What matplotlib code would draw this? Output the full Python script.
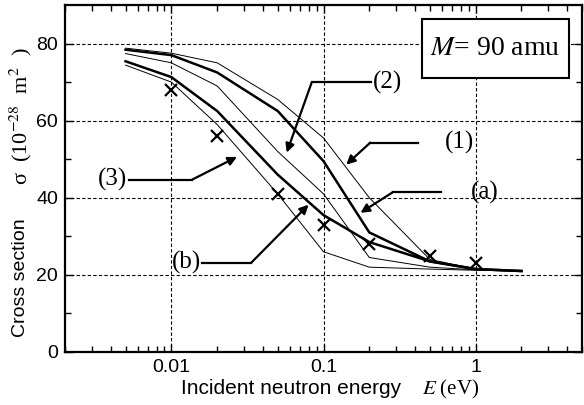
import matplotlib
matplotlib.use("Agg")
import matplotlib.pyplot as plt
from matplotlib.patches import Rectangle
from matplotlib.ticker import LogLocator, FixedLocator, FuncFormatter, NullFormatter

plt.rcParams["mathtext.fontset"] = "stix"

# Incident neutron energy (eV) and calculated cross sections (10^-28 m^2)
energy = [0.005, 0.01, 0.02, 0.05, 0.1, 0.2, 0.5, 1, 2]
curve_1 = [78.8, 77.5, 75.0, 65.5, 55.5, 40.0, 24.0, 21.5, 21.0]
curve_a = [78.4, 77.0, 72.5, 62.5, 49.5, 31.0, 23.5, 21.5, 21.0]
curve_2 = [77.4, 75.0, 69.0, 52.0, 41.0, 24.5, 22.0, 21.3, 21.0]
curve_b = [75.4, 71.3, 62.5, 46.0, 35.5, 28.5, 23.5, 21.5, 21.0]
curve_3 = [74.4, 70.0, 59.0, 41.0, 26.0, 22.0, 21.5, 21.2, 21.0]

# Measured points
exp_energy = [0.01, 0.02, 0.05, 0.1, 0.2, 0.5, 1]
exp_sigma = [68, 56, 41, 33, 28, 25, 23]

# Callout labels: text position, start of leader, knee, arrow tip
callouts = [
    ("(1)", (0.78, 54.3), (0.42, 54.3), (0.203, 54.3), (0.141, 48.6)),
    ("(2)", (0.262, 69.9), (0.205, 69.9), (0.0836, 69.9), (0.0573, 51.7)),
    ("(3)", (0.0041, 44.7), (0.0053, 44.7), (0.0137, 44.7), (0.027, 50.6)),
    ("(a)", (1.15, 41.3), (0.59, 41.5), (0.287, 41.5), (0.175, 36.1)),
    ("(b)", (0.0125, 23.1), (0.016, 23.1), (0.0334, 23.1), (0.0798, 38.2)),
]

fig = plt.figure(figsize=(5.84, 4.05), dpi=100)
ax = fig.add_axes([0.1113, 0.1309, 0.8853, 0.8568])

# thin model curves
for ys in (curve_1, curve_2, curve_3):
    ax.plot(energy, ys, color="black", lw=0.7, zorder=3)
# thick model curves
for ys in (curve_a, curve_b):
    ax.plot(energy, ys, color="black", lw=1.8, zorder=3)

ax.plot(exp_energy, exp_sigma, linestyle="none", marker="x", color="black",
        markersize=8, markeredgewidth=1.6, zorder=4)

# callouts
for label, txt, start, knee, tip in callouts:
    ax.plot([start[0], knee[0]], [start[1], knee[1]], color="black", lw=1.6, zorder=5)
    ax.annotate("", xy=tip, xytext=knee,
                arrowprops=dict(arrowstyle="-|>", color="black", lw=1.6,
                                mutation_scale=13, shrinkA=0, shrinkB=0),
                zorder=5)
    ax.text(txt[0], txt[1], label, ha="center", va="center", fontsize=18,
            family="Liberation Serif", zorder=6)

ax.set_xscale("log")
ax.set_xlim(0.002, 5)
ax.set_ylim(0, 90)

ax.xaxis.set_major_locator(FixedLocator([0.01, 0.1, 1]))
ax.xaxis.set_major_formatter(FuncFormatter(lambda v, p: f"{v:g}"))
ax.xaxis.set_minor_locator(LogLocator(base=10, subs=range(2, 10)))
ax.xaxis.set_minor_formatter(NullFormatter())
ax.set_yticks([0, 20, 40, 60, 80])
ax.set_yticks([10, 30, 50, 70], minor=True)

ax.grid(True, which="major", color="black", linestyle=(0, (3, 2)), lw=0.8)
ax.tick_params(which="both", direction="in", top=True, right=True,
               labelsize=14, width=1)
ax.tick_params(which="major", length=6, pad=5)
ax.tick_params(which="minor", length=4)
for lbl in ax.get_xticklabels() + ax.get_yticklabels():
    lbl.set_family("Liberation Sans")
for s in ax.spines.values():
    s.set_linewidth(1.6)

# mass box
ax.add_patch(Rectangle((0.6905, 0.7896), 0.2843, 0.170, transform=ax.transAxes,
                       facecolor="white", edgecolor="black", lw=1.5, zorder=6))
ax.text(0.832, 0.876, "$M$= 90 amu", transform=ax.transAxes, ha="center",
        va="center", fontsize=20, family="Liberation Serif", zorder=7)

# axis labels (sans + serif parts)
fig.text(291 / 584, 1 - 389 / 405, "Incident neutron energy", ha="center",
         va="center", fontsize=15, family="Liberation Sans")
fig.text(451 / 584, 1 - 389 / 405, "$E$ (eV)", ha="center", va="center",
         fontsize=15, family="Liberation Serif")
fig.text(21 / 584, 1 - 278 / 405, "Cross section", ha="center", va="center",
         rotation=90, fontsize=14, family="Liberation Sans")
fig.text(21 / 584, 1 - 116 / 405, "σ  (10$^{-28}$  m$^{2}$  )", ha="center",
         va="center", rotation=90, fontsize=16, family="Liberation Serif")

fig.savefig("out.png", dpi=100)
